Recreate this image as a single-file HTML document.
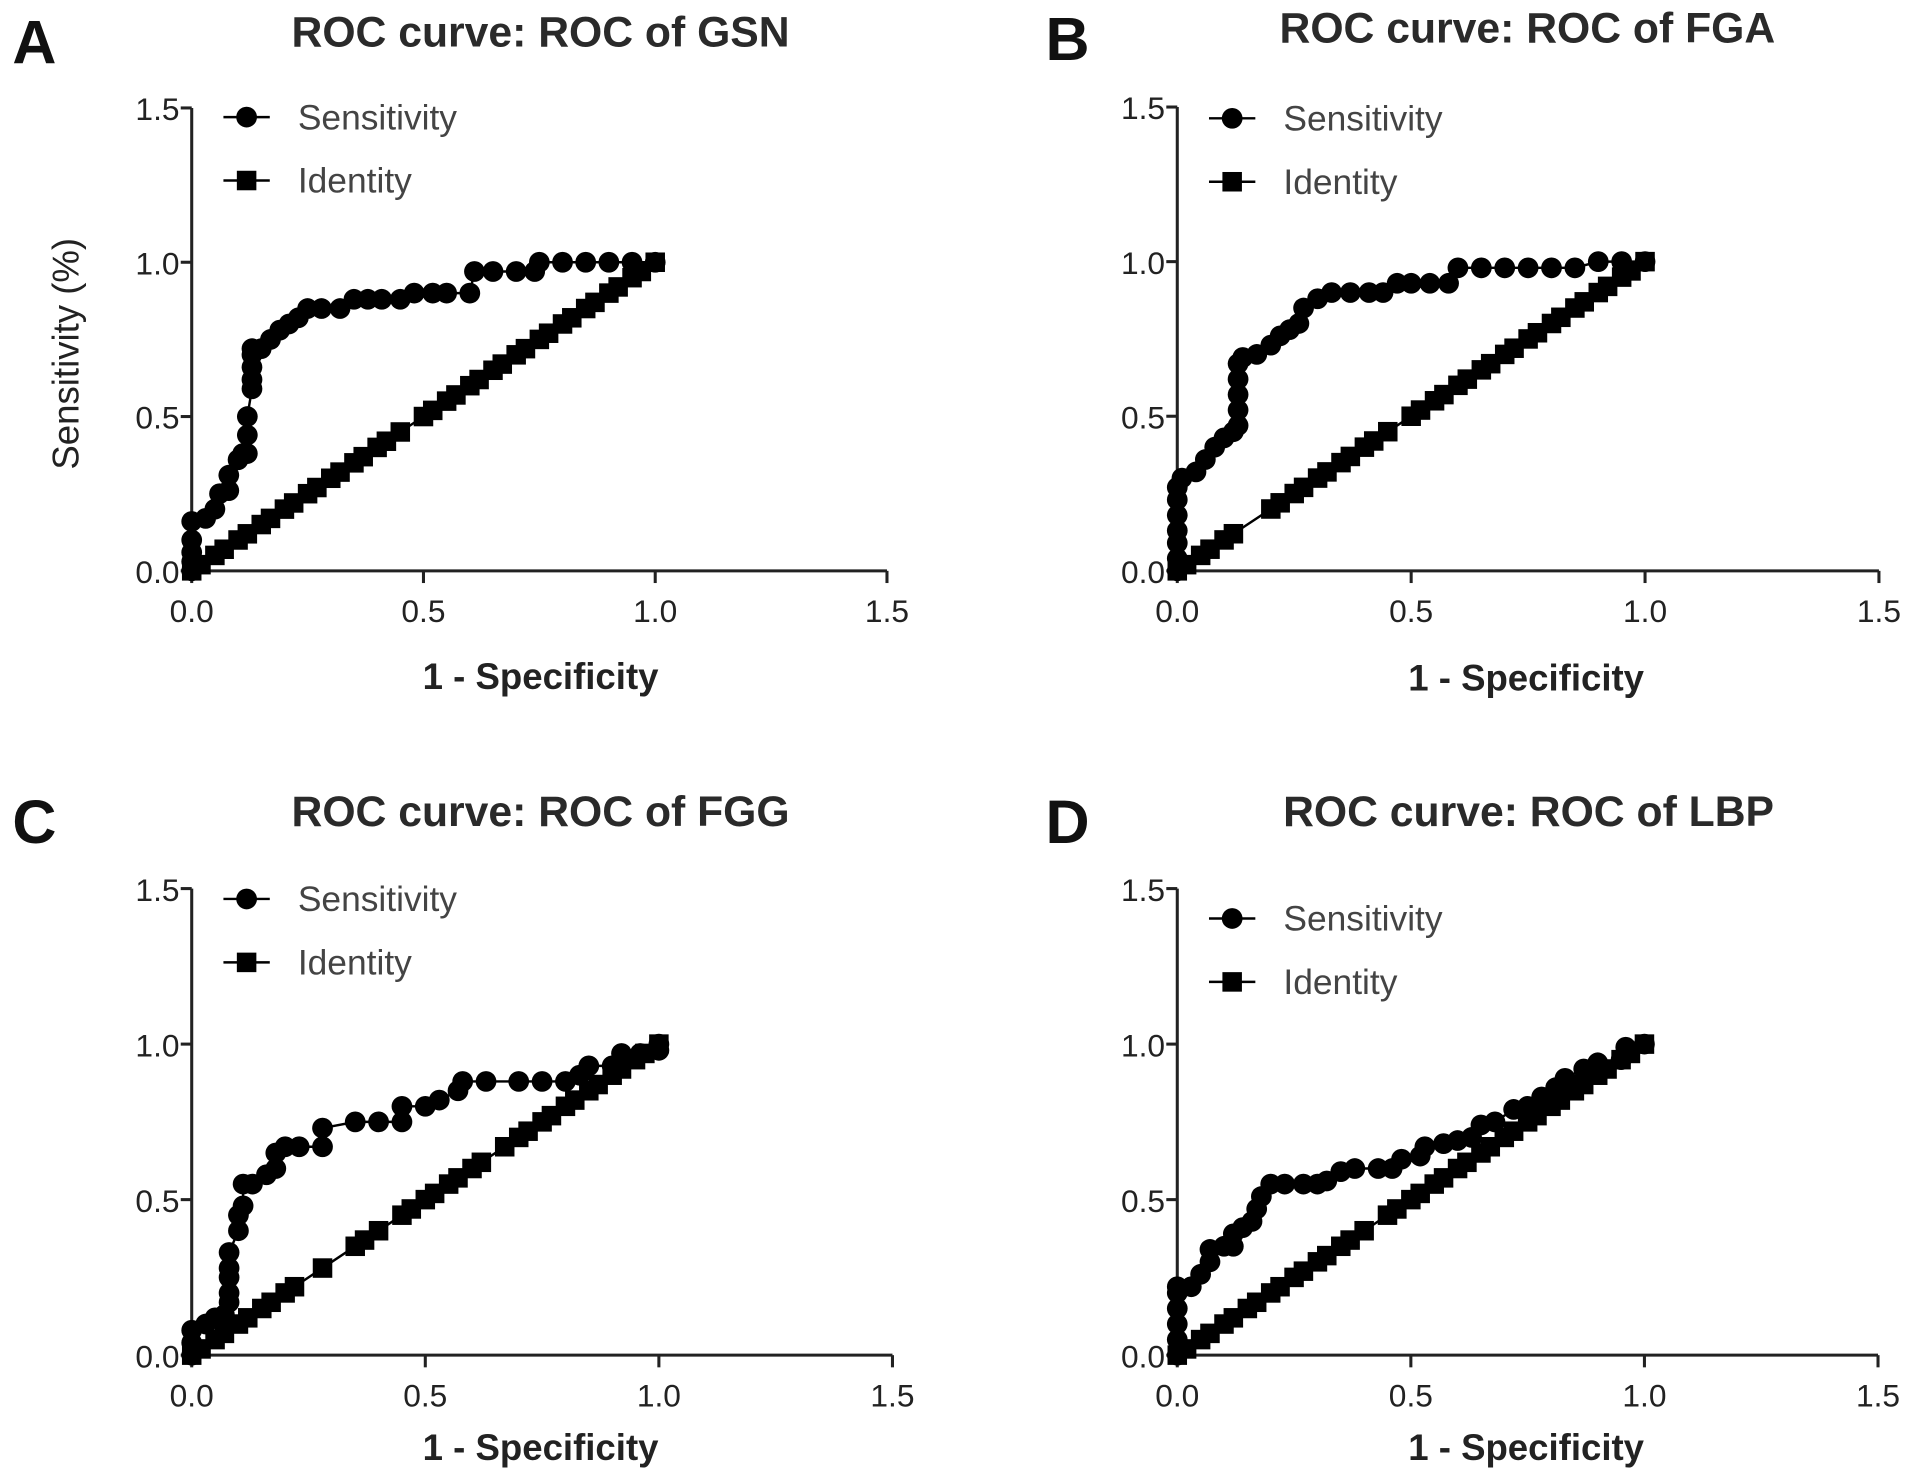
<!DOCTYPE html>
<html><head><meta charset="utf-8"><style>
html,body{margin:0;padding:0;background:#fff;width:1913px;height:1482px;overflow:hidden}
svg{display:block}
text{font-family:"Liberation Sans",Arial,sans-serif}
</style></head><body>
<svg id="fig" width="1913" height="1482" viewBox="0 0 1568 1215" xmlns="http://www.w3.org/2000/svg"></svg>
<script>
// Panel A (GSN)
const sensA_x=[0,0,0,0,0,0.03,0.05,0.06,0.08,0.08,0.10,0.11,0.12,0.12,0.12,0.13,0.13,0.13,0.13,0.13,0.15,0.17,0.19,0.21,0.23,0.25,0.28,0.32,0.35,0.38,0.41,0.45,0.48,0.52,0.55,0.60,0.61,0.65,0.70,0.74,0.75,0.80,0.85,0.90,0.95,1.00];
const sensA_y=[0,0.03,0.06,0.10,0.16,0.17,0.20,0.25,0.26,0.31,0.36,0.38,0.38,0.44,0.50,0.59,0.62,0.66,0.70,0.72,0.72,0.75,0.78,0.80,0.82,0.85,0.85,0.85,0.88,0.88,0.88,0.88,0.90,0.90,0.90,0.90,0.97,0.97,0.97,0.97,1.00,1.00,1.00,1.00,1.00,1.00];
const identA=[0,0.02,0.05,0.07,0.1,0.12,0.15,0.17,0.2,0.22,0.25,0.27,0.3,0.32,0.35,0.37,0.4,0.42,0.45,0.5,0.52,0.55,0.57,0.6,0.62,0.65,0.67,0.7,0.72,0.75,0.77,0.8,0.82,0.85,0.87,0.9,0.92,0.95,0.97,1.0];
// Panel B (FGA)
const sensB_x=[0,0,0,0,0,0,0,0.01,0.04,0.06,0.08,0.10,0.12,0.13,0.13,0.13,0.13,0.13,0.14,0.17,0.20,0.22,0.24,0.26,0.27,0.30,0.33,0.37,0.41,0.44,0.47,0.50,0.54,0.58,0.60,0.65,0.70,0.75,0.80,0.85,0.90,0.95,1.00];
const sensB_y=[0,0.04,0.09,0.13,0.18,0.23,0.27,0.30,0.32,0.36,0.40,0.43,0.45,0.47,0.52,0.57,0.62,0.67,0.69,0.70,0.73,0.76,0.78,0.80,0.85,0.88,0.90,0.90,0.90,0.90,0.93,0.93,0.93,0.93,0.98,0.98,0.98,0.98,0.98,0.98,1.00,1.00,1.00];
const identB=[0,0.02,0.05,0.07,0.1,0.12,0.2,0.22,0.25,0.27,0.3,0.32,0.35,0.37,0.4,0.42,0.45,0.5,0.52,0.55,0.57,0.6,0.62,0.65,0.67,0.7,0.72,0.75,0.77,0.8,0.82,0.85,0.87,0.9,0.92,0.95,0.97,1.0];
// Panel C (FGG)
const sensC_x=[0,0,0,0.03,0.05,0.07,0.08,0.08,0.08,0.08,0.08,0.10,0.10,0.11,0.11,0.13,0.16,0.18,0.18,0.20,0.23,0.28,0.28,0.35,0.40,0.45,0.45,0.50,0.53,0.57,0.58,0.63,0.70,0.75,0.80,0.83,0.85,0.90,0.92,0.96,1.00,1.00];
const sensC_y=[0,0.04,0.08,0.10,0.12,0.13,0.17,0.20,0.25,0.28,0.33,0.40,0.45,0.48,0.55,0.55,0.58,0.60,0.65,0.67,0.67,0.67,0.73,0.75,0.75,0.75,0.80,0.80,0.82,0.85,0.88,0.88,0.88,0.88,0.88,0.90,0.93,0.93,0.97,0.97,0.98,1.00];
const identC=[0,0.02,0.05,0.07,0.1,0.12,0.15,0.17,0.2,0.22,0.28,0.35,0.37,0.4,0.45,0.47,0.5,0.52,0.55,0.57,0.6,0.62,0.67,0.7,0.72,0.75,0.77,0.8,0.82,0.85,0.87,0.9,0.92,0.95,0.97,1.0];
// Panel D (LBP)
const sensD_x=[0,0,0,0,0,0,0.03,0.05,0.07,0.07,0.10,0.12,0.12,0.14,0.16,0.17,0.18,0.20,0.23,0.27,0.30,0.32,0.35,0.38,0.43,0.46,0.48,0.52,0.53,0.57,0.60,0.63,0.65,0.68,0.72,0.75,0.78,0.81,0.83,0.87,0.90,0.95,0.96,1.00];
const sensD_y=[0,0.05,0.10,0.15,0.20,0.22,0.22,0.26,0.30,0.34,0.35,0.35,0.39,0.41,0.43,0.47,0.51,0.55,0.55,0.55,0.55,0.56,0.59,0.60,0.60,0.60,0.63,0.64,0.67,0.68,0.69,0.70,0.74,0.75,0.79,0.80,0.83,0.86,0.89,0.92,0.94,0.95,0.99,1.00];
const identD=[0,0.02,0.05,0.07,0.1,0.12,0.15,0.17,0.2,0.22,0.25,0.27,0.3,0.32,0.35,0.37,0.4,0.45,0.47,0.5,0.52,0.55,0.57,0.6,0.62,0.65,0.67,0.7,0.72,0.75,0.77,0.8,0.82,0.85,0.87,0.9,0.92,0.95,0.97,1.0];
const ticks=[0,0.5,1.0,1.5];
const tickLabels=["0.0","0.5","1.0","1.5"];

const NS="http://www.w3.org/2000/svg";
const svg=document.getElementById('fig');
function mk(tag,attrs,parent,name){
  const e=document.createElementNS(NS,tag);
  for(const k in attrs)e.setAttribute(k,attrs[k]);
  
  
  (parent||svg).appendChild(e);return e;
}
const panels=[
 {id:'a',letter:'A',title:'ROC curve: ROC of GSN',ox:157,oy:468,xs:380,ys:253,lx:10,tx:443,ty:38,legY:96,xtY:565,ylab:true,sx:sensA_x,sy:sensA_y,id2:identA},
 {id:'b',letter:'B',title:'ROC curve: ROC of FGA',ox:965,oy:468,xs:383.5,ys:253.5,lx:857,tx:1252,ty:35,legY:97,xtY:566,ylab:false,sx:sensB_x,sy:sensB_y,id2:identB},
 {id:'c',letter:'C',title:'ROC curve: ROC of FGG',ox:157,oy:1111,xs:383,ys:255,lx:10,tx:443,ty:677,legY:737,xtY:1197,ylab:false,sx:sensC_x,sy:sensC_y,id2:identC},
 {id:'d',letter:'D',title:'ROC curve: ROC of LBP',ox:965,oy:1111,xs:383,ys:255,lx:857,tx:1253,ty:677,legY:753,xtY:1197,ylab:false,sx:sensD_x,sy:sensD_y,id2:identD}
];
panels.forEach(p=>{
  const g=mk('g',{},svg,'panel-'+p.id);
  const X=v=>p.ox+v*p.xs, Y=v=>p.oy-v*p.ys;
  const L=mk('text',{x:p.lx,y:p.ty+14,'font-size':50,'font-weight':'bold',fill:'#111'},g,'panel-letter');L.textContent=p.letter;
  const T=mk('text',{x:p.tx,y:p.ty,'font-size':35,'font-weight':'bold','text-anchor':'middle',fill:'#2a2a2a'},g,'chart-title');T.textContent=p.title;
  mk('line',{x1:X(0),y1:Y(1.5),x2:X(0),y2:Y(0)+1,stroke:'#222','stroke-width':2.5},g,'y-axis');
  mk('line',{x1:X(0)-1,y1:Y(0),x2:X(1.5),y2:Y(0),stroke:'#222','stroke-width':2.5},g,'x-axis');
  ticks.forEach((t,i)=>{
    mk('line',{x1:X(0)-9,y1:Y(t),x2:X(0),y2:Y(t),stroke:'#222','stroke-width':2.5},g,'y-tick');
    const yl=mk('text',{x:X(0)-10,y:Y(t)+10,'font-size':26,'text-anchor':'end',fill:'#222'},g,'y-tick-label');yl.textContent=tickLabels[i];
    mk('line',{x1:X(t),y1:Y(0),x2:X(t),y2:Y(0)+10,stroke:'#222','stroke-width':2.5},g,'x-tick');
    const xl=mk('text',{x:X(t),y:Y(0)+42,'font-size':26,'text-anchor':'middle',fill:'#222'},g,'x-tick-label');xl.textContent=tickLabels[i];
  });
  const xt=mk('text',{x:443+(p.ox-157),y:p.xtY,'font-size':30,'font-weight':'bold','text-anchor':'middle',fill:'#222'},g,'x-axis-title');xt.textContent='1 - Specificity';
  if(p.ylab){const yt=mk('text',{x:0,y:0,'font-size':30,'text-anchor':'middle',fill:'#222',transform:'translate(64,290) rotate(-90)'},g,'y-axis-title');yt.textContent='Sensitivity (%)';}
  let d='';p.id2.forEach((v,i)=>{d+=(i?'L':'M')+X(v)+' '+Y(v);});
  mk('path',{d:d,fill:'none',stroke:'#000','stroke-width':2},g,'identity-line');
  p.id2.forEach(v=>{mk('rect',{x:X(v)-8,y:Y(v)-8,width:16,height:16,fill:'#000'},g,'identity-point');});
  d='';p.sx.forEach((v,i)=>{d+=(i?'L':'M')+X(v)+' '+Y(p.sy[i]);});
  mk('path',{d:d,fill:'none',stroke:'#000','stroke-width':2},g,'sensitivity-line');
  p.sx.forEach((v,i)=>{mk('circle',{cx:X(v),cy:Y(p.sy[i]),r:8.5,fill:'#000'},g,'sensitivity-point');});
  const lx=p.ox+26;
  const lg=mk('g',{},g,'legend');
  mk('line',{x1:lx,y1:p.legY,x2:lx+38,y2:p.legY,stroke:'#000','stroke-width':2},lg,'legend-sensitivity-line');
  mk('circle',{cx:lx+19,cy:p.legY,r:8.5,fill:'#000'},lg,'legend-sensitivity-marker');
  const s1=mk('text',{x:lx+61,y:p.legY+10,'font-size':29,fill:'#444'},lg,'legend-sensitivity-label');s1.textContent='Sensitivity';
  const l2=p.legY+52;
  mk('line',{x1:lx,y1:l2,x2:lx+38,y2:l2,stroke:'#000','stroke-width':2},lg,'legend-identity-line');
  mk('rect',{x:lx+11,y:l2-8,width:16,height:16,fill:'#000'},lg,'legend-identity-marker');
  const s2=mk('text',{x:lx+61,y:l2+10,'font-size':29,fill:'#444'},lg,'legend-identity-label');s2.textContent='Identity';
});
</script>
</body></html>
